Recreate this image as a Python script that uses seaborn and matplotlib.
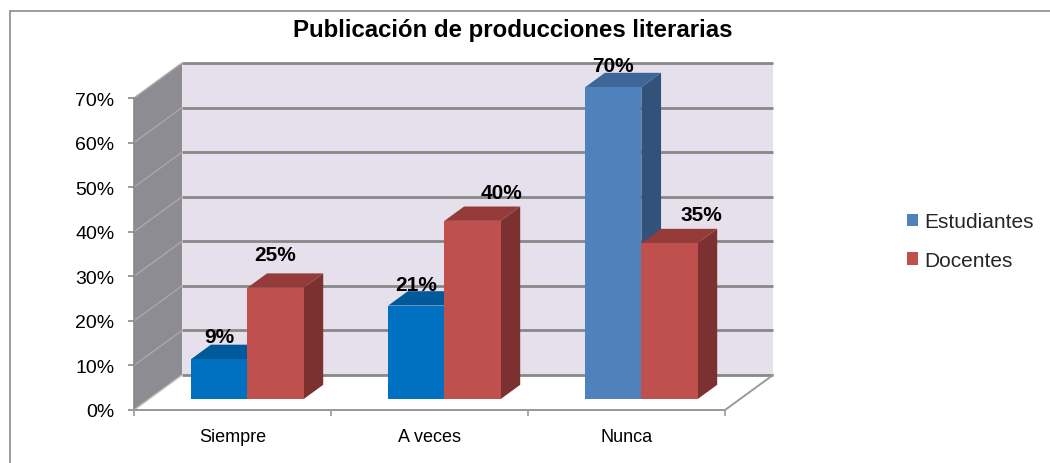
import numpy as np
import pandas as pd
import matplotlib
matplotlib.use("Agg")
import matplotlib.pyplot as plt
import seaborn as sns
from matplotlib.patches import Polygon, Rectangle
from matplotlib.lines import Line2D
from matplotlib.ticker import PercentFormatter, FixedLocator, NullFormatter

# ---------------- data ----------------
categories = ["Siempre", "A veces", "Nunca"]
series = ["Estudiantes", "Docentes"]
estudiantes = [0.09, 0.21, 0.70]
docentes = [0.25, 0.40, 0.35]
yticks = [0.0, 0.1, 0.2, 0.3, 0.4, 0.5, 0.6, 0.7]
title = "Publicación de producciones literarias"

# ---------------- style ----------------
sns.set_style("white")
plt.rcParams['font.family'] = ['Liberation Sans', 'DejaVu Sans']

BLUE = "#4F81BD"
BLUE_TOP = "#3E6696"
BLUE_SIDE = "#32527A"
BLUE2 = "#0070C0"
BLUE2_TOP = "#00599A"
BLUE2_SIDE = "#004C84"
RED = "#C0504D"
RED_TOP = "#953B39"
RED_SIDE = "#7C302F"
est_front = [BLUE2, BLUE2, BLUE]
est_top = [BLUE2_TOP, BLUE2_TOP, BLUE_TOP]
est_side = [BLUE2_SIDE, BLUE2_SIDE, BLUE_SIDE]

W, H = 1050, 464
fig = plt.figure(figsize=(W / 100, H / 100), dpi=100)

def fx(px):
    return px / W

def fy(py):
    return 1 - py / H

# outer frame (left + top lines visible)
fig.add_artist(Line2D([fx(10), fx(10)], [0, fy(12)], color="#8C8C8C", lw=1.2))
fig.add_artist(Line2D([fx(10), 1], [fy(12), fy(12)], color="#8C8C8C", lw=1.2))

# front plane axes
x0, x1 = 134, 725
yb, yt = 411, 99
ax = fig.add_axes([fx(x0), fy(yb), (x1 - x0) / W, (yb - yt) / H])
ax.set_xlim(-0.5, 2.5)
ax.set_ylim(0, 0.7)
ax.patch.set_visible(False)

px_per_cat = (x1 - x0) / 3.0
px_per_unit = (yb - yt) / 0.7
DX = 48 / px_per_cat
DY = 35 / px_per_unit

# back wall
ax.add_patch(Rectangle((-0.5 + DX, DY), 3.0, 0.7, facecolor="#E5E0EC",
                       edgecolor="none", zorder=0, clip_on=False))
# left wall
ax.add_patch(Polygon([(-0.5, 0), (-0.5, 0.7), (-0.5 + DX, 0.7 + DY), (-0.5 + DX, DY)],
                     closed=True, facecolor="#8E8C93", edgecolor="none",
                     zorder=0.5, clip_on=False))
# floor
ax.add_patch(Polygon([(-0.5, 0), (2.5, 0), (2.5 + DX, DY), (-0.5 + DX, DY)],
                     closed=True, facecolor="white", edgecolor="none",
                     zorder=0.5, clip_on=False))
# grid lines on back wall and left wall
for t in yticks:
    ax.plot([-0.5 + DX, 2.5 + DX], [t + DY, t + DY], color="#888888", lw=2.0,
            zorder=1, clip_on=False, solid_capstyle="butt")
    if t > 0:
        ax.plot([-0.5, -0.5 + DX], [t, t + DY], color="#A9A8AD", lw=1.0,
                zorder=1, clip_on=False)
# floor edges
ax.plot([2.5, 2.5 + DX], [0, DY], color="#9A9A9A", lw=1.4, zorder=1.2, clip_on=False)
ax.plot([-0.5, 2.5], [0, 0], color="#9A9A9A", lw=1.4, zorder=1.2, clip_on=False)
ax.plot([-0.5, -0.5 + DX], [0, DY], color="#BDBDBD", lw=1.0, zorder=1.2, clip_on=False)

# spines / ticks
for s in ["top", "right"]:
    ax.spines[s].set_visible(False)
ax.spines["left"].set_color("#8A8A8A")
ax.spines["bottom"].set_color("#9A9A9A")
ax.spines["left"].set_linewidth(1.2)
ax.spines["bottom"].set_linewidth(1.4)
ax.yaxis.set_major_locator(FixedLocator(yticks))
ax.yaxis.set_major_formatter(PercentFormatter(xmax=1, decimals=0))
ax.tick_params(axis="y", which="major", left=True, length=4, width=1.2,
               color="#8A8A8A", pad=10, labelsize=14, labelcolor="black")
ax.xaxis.set_major_locator(FixedLocator([-0.5, 0.5, 1.5, 2.5]))
ax.xaxis.set_major_formatter(NullFormatter())
ax.xaxis.set_minor_locator(FixedLocator([0, 1, 2]))
ax.set_xticklabels(categories, minor=True)
ax.tick_params(axis="x", which="major", bottom=True, length=4, width=1.2,
               color="#9A9A9A")
ax.tick_params(axis="x", which="minor", bottom=False, length=0, pad=13,
               labelsize=13, labelcolor="black")
ax.set_xlabel("")
ax.set_ylabel("")

# bars plane (offset into depth)
f = 0.31
axb = fig.add_axes([fx(x0 + f * 48), fy(yb - f * 35), (x1 - x0) / W, (yb - yt) / H])
axb.patch.set_visible(False)

df = pd.DataFrame({
    "Categoría": categories * 2,
    "Serie": [series[0]] * len(categories) + [series[1]] * len(categories),
    "Valor": estudiantes + docentes,
})
sns.barplot(data=df, x="Categoría", y="Valor", hue="Serie", order=categories,
            hue_order=series, palette=[BLUE, RED], saturation=1, width=0.57,
            linewidth=0, edgecolor="none", legend=False, ax=axb, errorbar=None)
axb.set_xlim(-0.5, 2.5)
axb.set_ylim(0, 0.7)
axb.axis("off")

bd = 0.41
bdx, bdy = bd * DX, bd * DY

# label offsets in pixels (dx, gap above front top)
est_lab = [(0, 17), (0, 16), (0, 16)]
doc_lab = [(0, 28), (29, 23), (32, 23)]

for p in list(axb.patches):
    x, w, h = p.get_x(), p.get_width(), p.get_height()
    if w <= 0:
        continue
    cx = x + w / 2
    ci = int(round(cx))
    is_est = cx < ci
    if is_est:
        front, top, side = est_front[ci], est_top[ci], est_side[ci]
        zb = 2
        lab = est_lab[ci]
    else:
        front, top, side = RED, RED_TOP, RED_SIDE
        zb = 5
        lab = doc_lab[ci]
    p.set_facecolor(front)
    p.set_zorder(zb + 1)
    axb.add_patch(Polygon([(x + w, 0), (x + w, h), (x + w + bdx, h + bdy), (x + w + bdx, bdy)],
                          closed=True, facecolor=side, edgecolor="none", zorder=zb,
                          clip_on=False))
    axb.add_patch(Polygon([(x, h), (x + w, h), (x + w + bdx, h + bdy), (x + bdx, h + bdy)],
                          closed=True, facecolor=top, edgecolor="none", zorder=zb,
                          clip_on=False))
    axb.annotate(f"{h * 100:.0f}%", xy=(cx, h), xytext=(lab[0] * 0.72, lab[1] * 0.72),
                 textcoords="offset points", ha="center", va="baseline",
                 fontsize=15, fontweight="bold", color="black", zorder=10,
                 annotation_clip=False)

# title
fig.text(fx(512.5), fy(37), title, ha="center", va="baseline",
         fontsize=17.3, fontweight="bold", color="black")

# legend
handles = [Rectangle((0, 0), 1, 1, facecolor=BLUE, edgecolor="none"),
           Rectangle((0, 0), 1, 1, facecolor=RED, edgecolor="none")]
fig.legend(handles, series, loc="upper left", bbox_to_anchor=(fx(907), fy(213.5)),
           frameon=False, fontsize=15, handlelength=0.53, handleheight=0.53,
           handletextpad=0.3, labelspacing=0.93, borderpad=0, borderaxespad=0)

fig.savefig("out.png", dpi=100)
